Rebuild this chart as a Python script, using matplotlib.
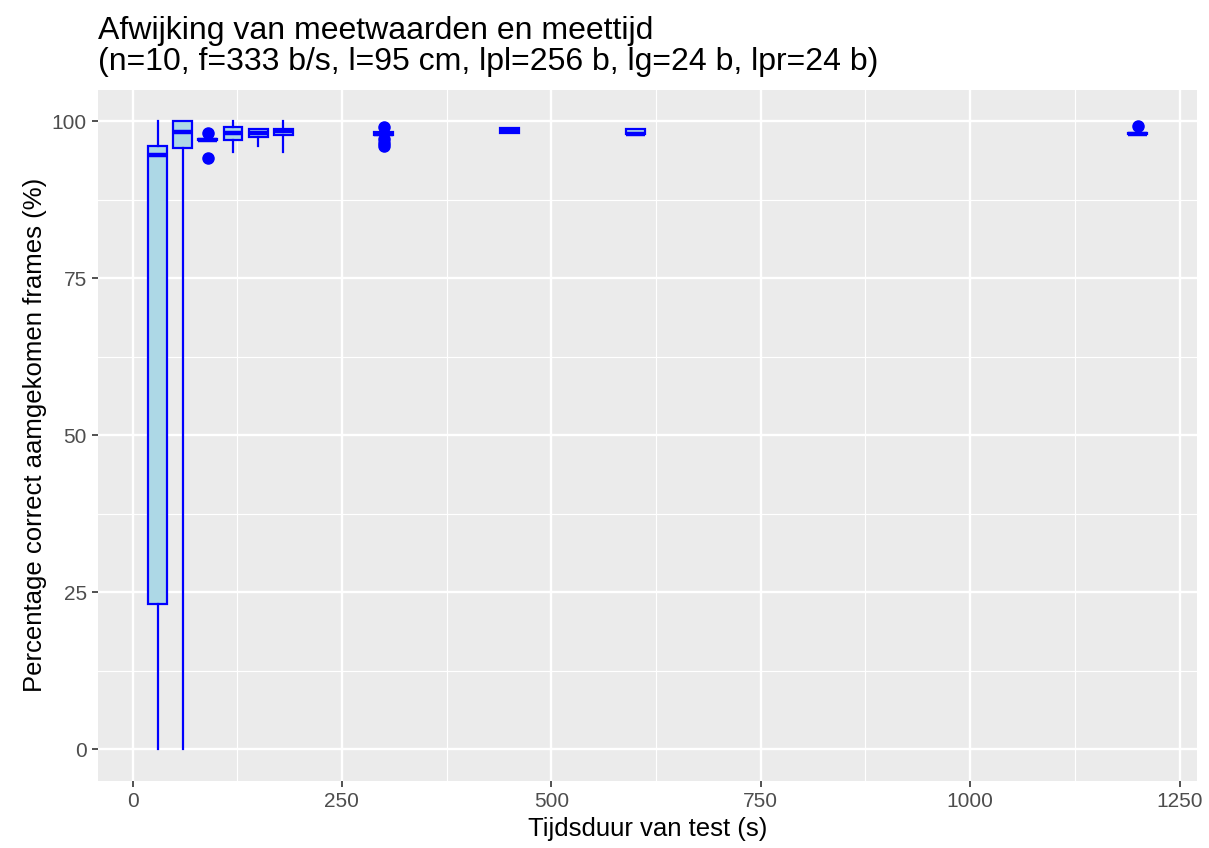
import matplotlib
matplotlib.use("Agg")
import matplotlib.pyplot as plt
from matplotlib.ticker import MultipleLocator

plt.rcParams['font.family'] = ['Liberation Sans', 'DejaVu Sans']

# Test durations (s) and box statistics of the percentage of correctly received frames
durations = [30, 60, 90, 120, 150, 180, 300, 450, 600, 1200]
whisker_low = [0.0, 0.0, 96.9, 95.1, 96.0, 95.1, 97.7, 98.1, 97.9, 97.9]
q1 = [23.1, 95.7, 96.9, 97.0, 97.4, 97.8, 97.7, 98.1, 98.0, 97.9]
median = [94.6, 98.2, 97.0, 98.1, 98.1, 98.4, 98.0, 98.5, 98.0, 98.0]
q3 = [96.0, 100.0, 97.1, 99.1, 98.8, 98.8, 98.2, 98.9, 98.7, 98.1]
whisker_high = [100.0, 100.0, 97.1, 100.0, 98.8, 100.0, 98.3, 98.9, 98.8, 98.1]
outliers = [[], [], [98.1, 94.1], [], [], [], [99.0, 97.2, 96.5, 96.0], [], [], [99.2]]

title = "Afwijking van meetwaarden en meettijd\n(n=10, f=333 b/s, l=95 cm, lpl=256 b, lg=24 b, lpr=24 b)"
xlabel = "Tijdsduur van test (s)"
ylabel = "Percentage correct aamgekomen frames (%)"

stats = []
for i in range(len(durations)):
    stats.append(dict(whislo=whisker_low[i], q1=q1[i], med=median[i], q3=q3[i],
                      whishi=whisker_high[i], fliers=outliers[i]))

fig = plt.figure(figsize=(12.09, 8.48), dpi=100)
ax = fig.add_axes([98.3 / 1209, 1 - 780.5 / 848, (1197 - 98.3) / 1209, (780.5 - 89.6) / 848])
ax.set_facecolor('#EBEBEB')

blue = '#0000FF'
lw = 1.6
ax.bxp(stats, positions=durations, widths=22.5, patch_artist=True, showcaps=False,
       boxprops=dict(facecolor='#ADD8E6', edgecolor=blue, linewidth=lw),
       medianprops=dict(color=blue, linewidth=lw * 2),
       whiskerprops=dict(color=blue, linewidth=lw),
       flierprops=dict(marker='o', markerfacecolor=blue, markeredgecolor=blue, markersize=8),
       manage_ticks=False, zorder=3)

ax.set_xlim(-40.875, 1270.875)
ax.set_ylim(-5, 105)
ax.xaxis.set_major_locator(MultipleLocator(250))
ax.xaxis.set_minor_locator(MultipleLocator(125))
ax.yaxis.set_major_locator(MultipleLocator(25))
ax.yaxis.set_minor_locator(MultipleLocator(12.5))
ax.grid(which='major', color='white', linewidth=1.7, zorder=0)
ax.grid(which='minor', color='white', linewidth=0.85, zorder=0)
ax.set_axisbelow(True)
for s in ax.spines.values():
    s.set_visible(False)
ax.tick_params(which='major', length=4.4, width=1.2, color='#333333',
               labelcolor='#4D4D4D', labelsize=15, pad=4)
ax.tick_params(which='minor', length=0)

ax.set_xlabel(xlabel, fontsize=18.5, color='black', labelpad=4)
ax.set_ylabel(ylabel, fontsize=18.5, color='black', labelpad=3)
ax.set_title(title, fontsize=23, loc='left', ha='left', color='black', pad=14,
             linespacing=1.05)

fig.savefig('out.png', dpi=100)
